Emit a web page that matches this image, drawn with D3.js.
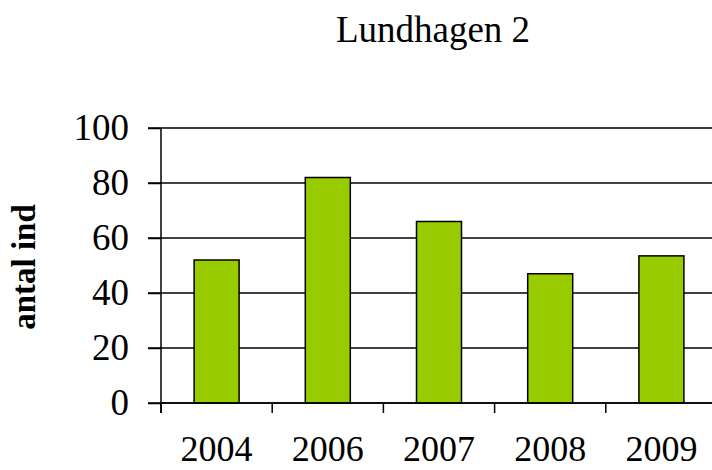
<!DOCTYPE html>
<html>
<head>
<meta charset="utf-8">
<script src="https://cdn.jsdelivr.net/npm/d3@7"></script>
<style>
  body { margin: 0; background: #fff; }
  text { font-family: "Liberation Serif", "Times New Roman", serif; fill: #000; }
</style>
</head>
<body>
<svg id="chart"></svg>
<script>
var years = ["2004", "2006", "2007", "2008", "2009"];
var counts = [52, 82, 66, 47, 53.5];
var yTicks = [0, 20, 40, 60, 80, 100];

var svg = d3.select("#chart")
    .attr("width", 712)
    .attr("height", 470);

var g = svg.append("g")
    .attr("transform", "translate(161,128)");

var width = 556, height = 275;

var x = d3.scaleBand().domain(years).range([0, width]).padding(0);
var y = d3.scaleLinear().domain([0, 100]).range([height, 0]);

// gridlines across the plot, starting at the tick marks
g.selectAll(".grid")
    .data(yTicks)
    .enter().append("line")
    .attr("class", "grid")
    .attr("x1", -13)
    .attr("x2", width)
    .attr("y1", d => y(d))
    .attr("y2", d => y(d))
    .attr("stroke", "#000")
    .attr("stroke-width", 1.5);

// bars
g.selectAll(".bar")
    .data(years.map((d, i) => ({year: d, value: counts[i]})))
    .enter().append("rect")
    .attr("class", "bar")
    .attr("x", d => x(d.year) + (x.bandwidth() - 45) / 2)
    .attr("width", 45)
    .attr("y", d => y(d.value))
    .attr("height", d => height - y(d.value))
    .attr("fill", "#99cc00")
    .attr("stroke", "#000")
    .attr("stroke-width", 1.5);

// y axis
var yAxis = g.append("g")
    .call(d3.axisLeft(y).tickValues(yTicks).tickSize(13).tickPadding(19));
yAxis.select(".domain").attr("stroke", "#000").attr("stroke-width", 1.5)
    .attr("d", "M0," + (height + 10) + "V0");
yAxis.selectAll(".tick line").attr("stroke-width", 1.5);
yAxis.selectAll(".tick text")
    .style("font-size", "37px")
    .style("font-family", "Liberation Serif");

// x axis: ticks sit at band boundaries
var xAxis = g.append("g")
    .attr("transform", "translate(0," + height + ")");
xAxis.append("line")
    .attr("x1", 0).attr("x2", width)
    .attr("stroke", "#000").attr("stroke-width", 1.5);
xAxis.selectAll(".xtick")
    .data(years)
    .enter().append("line")
    .attr("class", "xtick")
    .attr("x1", d => x(d))
    .attr("x2", d => x(d))
    .attr("y1", 0)
    .attr("y2", 10)
    .attr("stroke", "#000")
    .attr("stroke-width", 1.5);
xAxis.selectAll(".xlabel")
    .data(years)
    .enter().append("text")
    .attr("class", "xlabel")
    .attr("x", d => x(d) + x.bandwidth() / 2)
    .attr("y", 58)
    .attr("text-anchor", "middle")
    .style("font-size", "36px")
    .text(d => d);

// title
svg.append("text")
    .attr("x", 433)
    .attr("y", 42)
    .attr("text-anchor", "middle")
    .style("font-size", "37px")
    .text("Lundhagen 2");

// y axis label
svg.append("text")
    .attr("transform", "translate(35,267) rotate(-90)")
    .attr("text-anchor", "middle")
    .style("font-size", "33px")
    .style("font-weight", "bold")
    .text("antal ind");
</script>
</body>
</html>
